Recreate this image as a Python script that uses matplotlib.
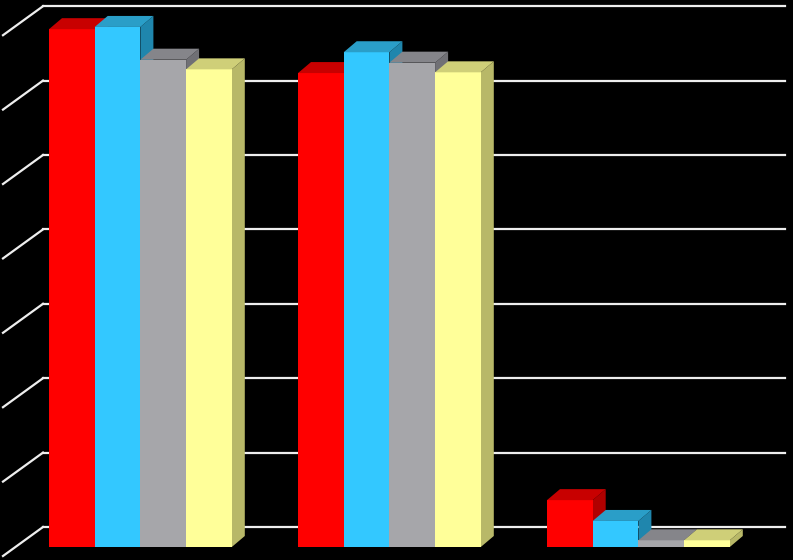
import matplotlib
matplotlib.use('Agg')
import matplotlib.pyplot as plt
from matplotlib.patches import Polygon

# values (no axis labels shown, 0..70 scale)
groups = ['A', 'B', 'C']
red = [69.6, 63.7, 6.3]
blue = [69.9, 66.5, 3.5]
gray = [65.5, 65.1, 0.9]
yellow = [64.2, 63.8, 0.9]
gridvals = [0, 10, 20, 30, 40, 50, 60, 70]

series = [red, blue, gray, yellow]
front_cols = ['#ff0000', '#33c8ff', '#a6a6aa', '#ffff99']
top_cols = ['#c80000', '#2a9ec8', '#85858a', '#cfcf78']
side_cols = ['#b00000', '#1f86ad', '#707075', '#b8b868']

# pixel scale helpers (figure is 793x560, axes fill it)
px_x = 45.7   # pixels per bar width
px_y = 7.44   # pixels per value unit
dx = 13 / px_x   # bar depth offset
dy = 11 / px_y
group_step = 249 / px_x

fig = plt.figure(figsize=(7.93, 5.6), dpi=100)
fig.patch.set_facecolor('black')
ax = fig.add_axes([0, 0, 1, 1])
ax.set_facecolor('black')
x0 = -49 / px_x
ax.set_xlim(x0, x0 + 793 / px_x)
ax.set_ylim(-13 / px_y, 547 / px_y)
ax.axis('off')

# back wall grid lines plus the slanted part on the side wall
wall_up = 20 / px_y
wall_l = x0 + 43 / px_x
for v in gridvals:
    yb = v + wall_up
    ax.plot([wall_l, x0 + 785 / px_x], [yb, yb], color='#eeeeee', lw=1.6, zorder=1)
    ax.plot([wall_l, x0 + 3 / px_x], [yb, yb - 29 / px_y], color='#eeeeee', lw=1.6, zorder=1)

z = 2
for g in range(len(groups)):
    for s, vals in enumerate(series):
        left = g * group_step + s
        h = vals[g]
        ax.bar(left, h, width=1.0, align='edge', color=front_cols[s], zorder=z)
        top = Polygon([(left, h), (left + 1, h), (left + 1 + dx, h + dy), (left + dx, h + dy)],
                      closed=True, facecolor=top_cols[s], edgecolor='none', zorder=z)
        side = Polygon([(left + 1, 0), (left + 1 + dx, dy), (left + 1 + dx, h + dy), (left + 1, h)],
                       closed=True, facecolor=side_cols[s], edgecolor='none', zorder=z - 0.5)
        ax.add_patch(top)
        ax.add_patch(side)
        z += 1

fig.savefig('out.png', dpi=100, facecolor='black')
